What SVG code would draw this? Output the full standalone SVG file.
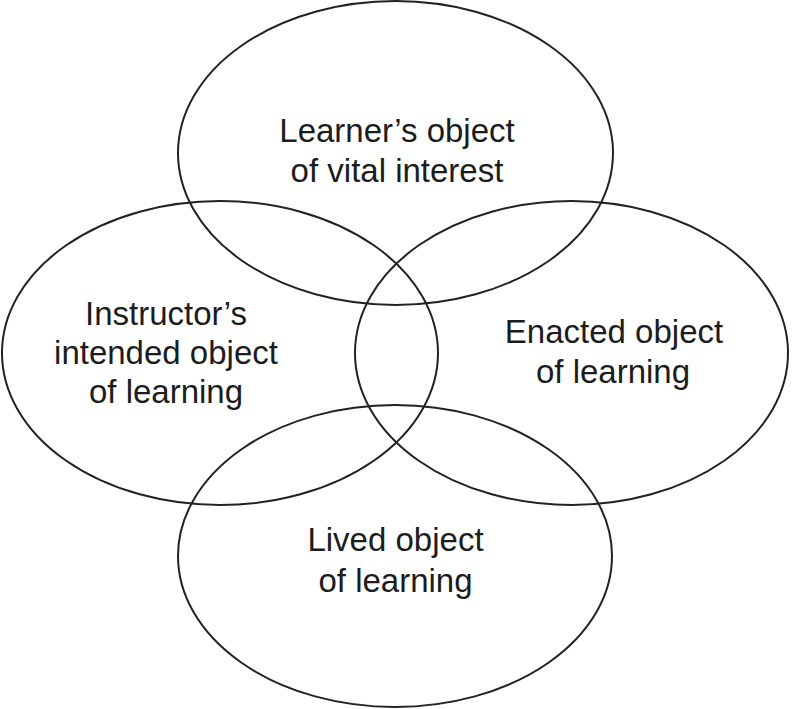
<svg xmlns="http://www.w3.org/2000/svg" width="792" height="709" viewBox="0 0 792 709">
  <style>
    .ring { fill: none; stroke: #222; stroke-width: 2; }
    .label { font-family: "Liberation Sans", Arial, sans-serif; font-size: 33px; fill: #1c1c1c; text-anchor: middle; }
  </style>
  <rect width="792" height="709" fill="#fff"/>
  <g id="learner">
    <ellipse class="ring" cx="395.5" cy="153" rx="217.5" ry="152"/>
    <text class="label" x="397" y="142">Learner’s object</text>
    <text class="label" x="397" y="182">of vital interest</text>
  </g>
  <g id="instructor">
    <ellipse class="ring" cx="220" cy="353" rx="218" ry="152"/>
    <text class="label" x="166" y="325">Instructor’s</text>
    <text class="label" x="166" y="364">intended object</text>
    <text class="label" x="166" y="403">of learning</text>
  </g>
  <g id="enacted">
    <ellipse class="ring" cx="571.5" cy="353" rx="216.5" ry="152"/>
    <text class="label" x="614" y="343">Enacted object</text>
    <text class="label" x="613" y="383">of learning</text>
  </g>
  <g id="lived">
    <ellipse class="ring" cx="395" cy="556" rx="217" ry="151"/>
    <text class="label" x="395.5" y="551">Lived object</text>
    <text class="label" x="395.5" y="592">of learning</text>
  </g>
  <g id="connectors"/>
</svg>
